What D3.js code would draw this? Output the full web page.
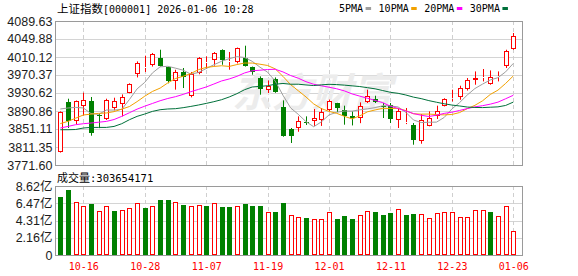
<!DOCTYPE html>
<html>
<head>
<meta charset="utf-8">
<script src="https://cdn.jsdelivr.net/npm/d3@7"></script>
<style>
  body { margin: 0; background: #fff; }
  svg text { font-family: "Liberation Sans", Arial, sans-serif; }
</style>
</head>
<body>
<div id="chart"></div>
<script>
// trading days shown (60 candles)
var dates = ["10-13","10-14","10-15","10-16","10-17","10-20","10-21","10-22","10-23","10-24",
  "10-27","10-28","10-29","10-30","10-31","11-03","11-04","11-05","11-06","11-07",
  "11-10","11-11","11-12","11-13","11-14","11-17","11-18","11-19","11-20","11-21",
  "11-24","11-25","11-26","11-27","11-28","12-01","12-02","12-03","12-04","12-05",
  "12-08","12-09","12-10","12-11","12-12","12-15","12-16","12-17","12-18","12-19",
  "12-22","12-23","12-24","12-25","12-26","12-29","12-30","12-31","01-05","01-06"];

var labelDates = ["10-16","10-28","11-07","11-19","12-01","12-11","12-23","01-06"];

var open = [3800.3,3911.4,3869.4,3901.0,3913.6,3883.0,3873.2,3897.5,3907.0,3931.3,
  3972.6,3986.0,3992.5,4008.6,3987.2,3956.2,3976.0,3923.1,3974.8,3997.0,
  4004.2,4026.2,3998.5,3998.2,4007.9,3988.0,3963.7,3937.9,3961.5,3899.7,
  3851.1,3853.3,3867.0,3869.4,3871.6,3893.7,3908.5,3892.2,3880.5,3875.4,
  3910.7,3918.0,3903.0,3904.8,3871.6,3864.0,3860.6,3823.7,3858.4,3879.0,
  3902.6,3918.0,3921.8,3939.4,3958.4,3964.0,3950.5,3965.5,3989.4,4027.8];

var high = [3890.0,3918.0,3914.0,3931.3,3921.8,3886.0,3918.0,3920.2,3927.5,3952.0,
  4000.4,4013.0,4019.0,4026.2,3988.0,3982.0,3985.8,3977.0,4010.0,4011.5,
  4021.0,4027.0,4021.2,4031.0,4035.1,3989.0,3967.3,3958.4,3965.0,3914.3,
  3853.3,3879.0,3879.0,3895.3,3897.5,3916.0,3909.0,3902.6,3890.0,3909.9,
  3937.9,3924.6,3908.5,3908.5,3897.5,3897.5,3864.3,3884.0,3890.0,3902.6,
  3919.0,3937.9,3946.7,3963.7,3978.3,3983.6,3980.5,3978.3,4026.2,4063.1];

var low = [3799.0,3853.3,3862.0,3881.0,3836.3,3853.0,3871.0,3892.2,3879.0,3930.0,
  3965.0,3977.0,3989.0,3989.0,3952.0,3938.0,3941.6,3921.0,3972.0,3983.6,
  3991.0,3993.0,3982.0,3996.0,3989.0,3971.0,3926.9,3930.6,3931.0,3834.0,
  3820.2,3845.0,3860.0,3857.9,3857.9,3891.0,3888.6,3860.6,3859.0,3864.0,
  3908.5,3908.5,3875.4,3864.3,3853.3,3862.0,3816.4,3818.6,3857.0,3873.2,
  3901.0,3912.0,3915.8,3936.0,3948.9,3956.2,3948.9,3956.2,3985.8,4026.2];

var close = [3888.6,3867.9,3912.9,3915.1,3841.4,3880.0,3915.8,3912.9,3921.8,3950.5,
  3997.5,3988.0,4016.7,3989.4,3956.2,3977.0,3965.9,3972.6,4007.9,3999.5,
  4019.0,4004.2,4001.3,4030.0,3990.9,3976.1,3940.1,3945.2,3931.9,3834.8,
  3836.3,3868.8,3865.0,3875.4,3888.6,3913.6,3897.5,3879.0,3874.5,3902.6,
  3924.6,3910.7,3900.0,3873.2,3890.0,3866.0,3825.9,3872.0,3876.0,3891.5,
  3917.4,3920.0,3941.6,3960.0,3963.7,3966.3,3965.2,3967.5,4024.0,4057.2];

// close of the session before the first candle (colours the first volume bar)
var prevClose = 3897.0;

// volume, 亿
var volume = [7.23,8.11,6.60,6.06,6.35,5.55,6.06,5.55,5.68,5.81,
  6.44,5.84,6.18,6.85,6.85,6.60,6.22,6.18,6.29,6.10,
  6.44,5.97,5.97,6.18,6.31,6.10,6.10,5.43,5.43,6.48,
  5.01,4.76,4.67,4.54,4.54,5.43,4.54,4.92,4.54,5.01,
  5.51,5.34,5.05,5.30,5.77,5.05,5.17,5.14,4.63,5.26,
  5.34,5.34,4.80,4.80,5.68,5.68,5.34,4.92,6.06,3.04];

var ma5 = [3895.3,3897.5,3898.8,3897.5,3885.2,3883.5,3893.0,3893.0,3894.4,3916.2,
  3939.7,3954.1,3974.9,3988.4,3989.6,3985.5,3981.0,3972.2,3975.9,3984.6,
  3993.0,4000.6,4006.4,4010.8,4009.1,4000.5,3987.7,3976.5,3956.8,3925.6,
  3897.7,3883.4,3867.4,3856.1,3866.8,3882.3,3888.0,3890.8,3890.6,3893.4,
  3895.6,3898.3,3902.5,3902.2,3899.7,3888.0,3871.0,3865.4,3866.0,3866.3,
  3876.6,3895.4,3909.3,3926.1,3940.5,3950.3,3959.4,3964.5,3977.3,3996.0];

var ma10 = [3863.0,3868.0,3875.0,3882.0,3884.0,3885.6,3886.5,3889.5,3895.0,3900.7,
  3911.6,3923.6,3934.0,3941.4,3952.9,3962.6,3967.6,3973.6,3982.2,3987.1,
  3989.2,3990.8,3989.3,3993.4,3996.8,3996.7,3994.2,3991.4,3983.8,3967.4,
  3949.1,3935.5,3921.9,3906.5,3896.2,3890.0,3885.7,3879.1,3873.4,3880.1,
  3889.0,3893.2,3896.7,3896.4,3896.6,3891.8,3884.7,3883.9,3884.1,3883.0,
  3882.3,3883.2,3887.4,3896.0,3903.4,3913.4,3927.4,3936.9,3951.7,3968.3];

var ma20 = [3853.3,3856.8,3860.6,3862.8,3864.3,3866.1,3867.9,3872.0,3879.0,3887.0,
  3895.0,3901.5,3907.5,3913.5,3918.5,3922.5,3927.5,3933.5,3938.6,3943.9,
  3950.4,3957.2,3961.6,3967.4,3974.9,3979.7,3980.9,3982.5,3983.0,3977.2,
  3969.2,3963.2,3955.6,3949.9,3946.5,3943.4,3939.9,3935.3,3928.6,3923.7,
  3919.0,3914.3,3909.3,3901.4,3896.4,3890.9,3885.2,3881.5,3878.7,3881.6,
  3885.6,3888.2,3892.0,3896.2,3900.0,3902.6,3906.0,3910.4,3917.9,3925.6];

var ma30 = [3849.5,3849.5,3850.0,3853.3,3854.6,3854.6,3854.6,3856.8,3862.8,3871.6,
  3879.0,3884.2,3890.0,3893.7,3895.3,3896.0,3898.2,3901.0,3904.1,3907.6,
  3911.4,3915.8,3921.8,3929.1,3937.9,3943.9,3945.2,3946.7,3950.0,3951.7,
  3950.0,3950.0,3948.4,3947.1,3948.6,3949.8,3949.2,3948.0,3946.4,3944.9,
  3942.4,3939.8,3936.0,3932.1,3929.9,3926.2,3921.5,3918.2,3913.8,3910.2,
  3906.8,3904.0,3902.0,3899.6,3898.7,3898.4,3899.2,3900.0,3903.1,3910.5];

var yTicks = [3771.60, 3811.35, 3851.11, 3890.86, 3930.62, 3970.37, 4010.12, 4049.88, 4089.63];
var volTicks = [0, 2.16, 4.31, 6.47, 8.62];

var maNames = ["5PMA", "10PMA", "20PMA", "30PMA"];
var maColors = ["#9e9e9e", "#f2a100", "#ff00ff", "#00703a"];

var titleName = "上证指数";
var titleCode = "[000001] 2026-01-06 10:28";
var volTitle = "成交量";
var volNow = "303654171";

var RED = "#ff0000", GREEN = "#008000";

var svgWidth = 578, svgHeight = 276;
var plot = { left: 55.5, right: 522.5, top: 21, bottom: 165, vtop: 186, vbottom: 255 };

var svg = d3.select("#chart").append("svg")
  .attr("width", svgWidth)
  .attr("height", svgHeight);

var x = d3.scalePoint().domain(dates).range([60.3, 513.3]);
var y = d3.scaleLinear().domain([yTicks[0], yTicks[yTicks.length - 1]]).range([plot.bottom, plot.top]);
var yv = d3.scaleLinear().domain([0, volTicks[volTicks.length - 1]]).range([plot.vbottom, plot.vtop]);

function px(v) { return Math.round(v) + 0.5; }
function cx(d) { return Math.round(x(d)); }

var bars = dates.map(function(d, i) {
  return { date: d, o: open[i], h: high[i], l: low[i], c: close[i], v: volume[i],
           prev: i ? close[i - 1] : prevClose };
});

// grid
var grid = svg.append("g");
grid.selectAll(".hg").data(yTicks.slice(1, -1)).enter().append("line")
  .attr("x1", plot.left).attr("x2", plot.right)
  .attr("y1", d => px(y(d))).attr("y2", d => px(y(d)))
  .attr("stroke", "#d4d4d4");
grid.selectAll(".vg").data(volTicks.slice(1, -1)).enter().append("line")
  .attr("x1", plot.left).attr("x2", plot.right)
  .attr("y1", d => px(yv(d))).attr("y2", d => px(yv(d)))
  .attr("stroke", "#d4d4d4");
[[plot.top, plot.bottom], [plot.vtop, plot.vbottom]].forEach(function(r) {
  grid.selectAll(null).data(labelDates).enter().append("line")
    .attr("x1", d => cx(d) + 0.5).attr("x2", d => cx(d) + 0.5)
    .attr("y1", r[0]).attr("y2", r[1])
    .attr("stroke", "#cfcfcf")
    .attr("stroke-dasharray", "4,3");
});

// watermark
svg.append("text")
  .attr("x", 232).attr("y", 107)
  .attr("font-size", 40)
  .attr("font-weight", "bold")
  .attr("font-style", "italic")
  .style("font-family", "'Noto Sans CJK SC', sans-serif")
  .attr("fill", "#ececec")
  .text("东方财富");

// frames
svg.append("rect")
  .attr("x", plot.left).attr("y", plot.top + 0.5)
  .attr("width", plot.right - plot.left).attr("height", plot.bottom - plot.top)
  .attr("fill", "none").attr("stroke", "#9a9a9a");
svg.append("rect")
  .attr("x", plot.left).attr("y", plot.vtop + 0.5)
  .attr("width", plot.right - plot.left).attr("height", plot.vbottom - plot.vtop)
  .attr("fill", "none").attr("stroke", "#9a9a9a");

// candles
var cg = svg.append("g");
bars.forEach(function(d) {
  var c = cx(d.date);
  var up = d.c >= d.o;
  var col = up ? RED : GREEN;
  var top = Math.round(y(Math.max(d.o, d.c)));
  var bot = Math.round(y(Math.min(d.o, d.c)));
  var hgt = Math.max(bot - top, 1);
  cg.append("line")
    .attr("x1", c + 0.5).attr("x2", c + 0.5)
    .attr("y1", y(d.h)).attr("y2", top)
    .attr("stroke", col);
  cg.append("line")
    .attr("x1", c + 0.5).attr("x2", c + 0.5)
    .attr("y1", top + hgt).attr("y2", y(d.l))
    .attr("stroke", col);
  if (up) {
    cg.append("rect")
      .attr("x", c - 2 + 0.5).attr("y", top + 0.5)
      .attr("width", 4).attr("height", Math.max(hgt - 1, 0))
      .attr("fill", "#fff").attr("stroke", RED);
  } else {
    cg.append("rect")
      .attr("x", c - 2).attr("y", top)
      .attr("width", 5).attr("height", hgt)
      .attr("fill", GREEN);
  }
});

// moving averages
var mas = [ma5, ma10, ma20, ma30];
var line = d3.line()
  .x((v, i) => x(dates[i]))
  .y(v => y(v));
mas.forEach(function(m, k) {
  svg.append("path")
    .datum(m)
    .attr("d", line)
    .attr("fill", "none")
    .attr("stroke", maColors[k])
    .attr("stroke-width", 1);
});

// volume
var vg = svg.append("g");
bars.forEach(function(d) {
  var c = cx(d.date);
  var top = Math.round(yv(d.v));
  var up = d.c >= d.prev;
  if (up) {
    vg.append("rect")
      .attr("x", c - 2 + 0.5).attr("y", top + 0.5)
      .attr("width", 4).attr("height", plot.vbottom - top - 1)
      .attr("fill", "#fff").attr("stroke", RED);
  } else {
    vg.append("rect")
      .attr("x", c - 2).attr("y", top)
      .attr("width", 5).attr("height", plot.vbottom - top)
      .attr("fill", GREEN);
  }
});

// axes
var yAxis = svg.append("g")
  .attr("transform", `translate(${plot.left}, 0)`)
  .call(d3.axisLeft(y).tickValues(yTicks).tickFormat(d3.format(".2f")).tickSize(0).tickPadding(3));
var vAxis = svg.append("g")
  .attr("transform", `translate(${plot.left}, 0)`)
  .call(d3.axisLeft(yv).tickValues(volTicks)
    .tickFormat(v => v === 0 ? "0" : v.toFixed(2) + "亿").tickSize(0).tickPadding(3));
var xAxis = svg.append("g")
  .attr("transform", `translate(0, ${plot.vbottom})`)
  .call(d3.axisBottom(x).tickValues(labelDates).tickSize(0).tickPadding(8));

[yAxis, vAxis, xAxis].forEach(a => a.select(".domain").remove());
yAxis.selectAll("text").attr("font-size", 12.5).attr("fill", "#1c1c1c")
  .style("font-family", "'Liberation Sans', Arial, sans-serif");
vAxis.selectAll("text").attr("font-size", 12.5).attr("fill", "#1c1c1c")
  .style("font-family", "'Liberation Sans', 'Noto Sans CJK SC', sans-serif");
xAxis.selectAll("text").attr("font-size", 10).attr("fill", RED)
  .style("font-family", "'DejaVu Sans Mono', monospace");

// title
var title = svg.append("text").attr("x", 57).attr("y", 12.5).attr("fill", "#000");
title.append("tspan").style("font-family", "'Noto Sans CJK SC', sans-serif")
  .attr("font-size", 11.5).text(titleName);
title.append("tspan").style("font-family", "'DejaVu Sans Mono', monospace")
  .attr("font-size", 10).text(titleCode);

var vt = svg.append("text").attr("x", 57).attr("y", 181.5).attr("fill", "#000");
vt.append("tspan").style("font-family", "'Noto Sans CJK SC', sans-serif")
  .attr("font-size", 11).text(volTitle);
vt.append("tspan").style("font-family", "'DejaVu Sans Mono', monospace")
  .attr("font-size", 10.5).text(":" + volNow);

// legend
var lx = 339;
maNames.forEach(function(n, k) {
  var t = svg.append("text")
    .attr("x", lx).attr("y", 12)
    .attr("font-size", 10)
    .style("font-family", "'DejaVu Sans Mono', monospace")
    .attr("fill", "#000")
    .text(n);
  var w = t.node().getComputedTextLength();
  svg.append("rect")
    .attr("x", lx + w + 2.5).attr("y", 7)
    .attr("width", 5.5).attr("height", 3)
    .attr("fill", maColors[k]);
  lx = lx + w + 2.5 + 5.5 + 7.5;
});
</script>
</body>
</html>
